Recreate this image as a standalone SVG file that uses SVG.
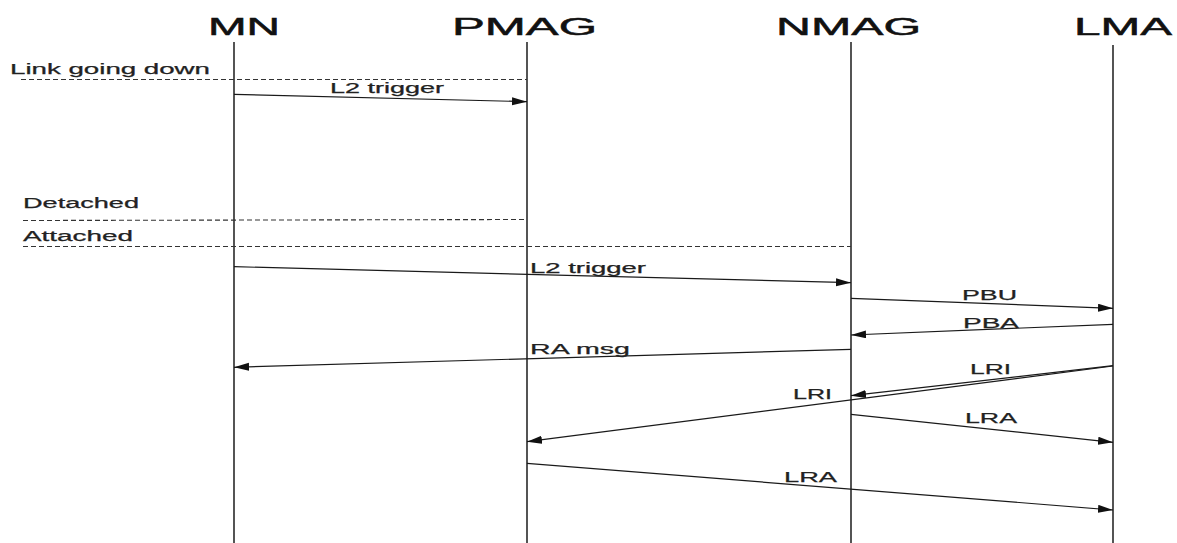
<svg xmlns="http://www.w3.org/2000/svg" width="1177" height="543" viewBox="0 0 1177 543">
<style>
.hdr{font-family:"Liberation Sans",Arial,sans-serif;font-size:24.5px;fill:#111;stroke:#111;stroke-width:0.5}
.lbl{font-family:"Liberation Sans",Arial,sans-serif;font-size:14px;fill:#222;stroke:#222;stroke-width:0.25}
.life{stroke:#2a2a2a;stroke-width:1.6;fill:none}
.msg{stroke:#1a1a1a;stroke-width:1.2;fill:none;marker-end:url(#ah)}
.dash{stroke:#333;stroke-width:1.1;stroke-dasharray:5 3;fill:none}
</style>
<defs>
<marker id="ah" markerUnits="userSpaceOnUse" markerWidth="16" markerHeight="9" refX="15" refY="4" orient="auto">
<path d="M0,0 L15,4 L0,8 z" fill="#111"/>
</marker>
</defs>
<rect width="1177" height="543" fill="#fff"/>
<g id="node-MN">
<text class="hdr" x="208" y="35" textLength="72" lengthAdjust="spacingAndGlyphs">MN</text>
<line class="life" x1="234" y1="42" x2="234" y2="543"/>
</g>
<g id="node-PMAG">
<text class="hdr" x="452" y="35" textLength="145" lengthAdjust="spacingAndGlyphs">PMAG</text>
<line class="life" x1="527" y1="42" x2="527" y2="543"/>
</g>
<g id="node-NMAG">
<text class="hdr" x="776" y="34.5" textLength="145" lengthAdjust="spacingAndGlyphs">NMAG</text>
<line class="life" x1="851" y1="42" x2="851" y2="543"/>
</g>
<g id="node-LMA">
<text class="hdr" x="1074" y="34.5" textLength="98" lengthAdjust="spacingAndGlyphs">LMA</text>
<line class="life" x1="1113" y1="45" x2="1113" y2="543"/>
</g>
<g id="states">
<text class="lbl" x="10" y="73.5" textLength="200" lengthAdjust="spacingAndGlyphs">Link going down</text>
<line class="dash" x1="21" y1="79.5" x2="527" y2="79.5"/>
<text class="lbl" x="23" y="208" textLength="116" lengthAdjust="spacingAndGlyphs">Detached</text>
<line class="dash" x1="23" y1="220.5" x2="527" y2="219.5"/>
<text class="lbl" x="23" y="240.5" textLength="110" lengthAdjust="spacingAndGlyphs">Attached</text>
<line class="dash" x1="23" y1="246.5" x2="851" y2="246.5"/>
</g>
<g id="connectors">
<line class="msg" x1="234" y1="94.3" x2="527" y2="101.7"/>
<text class="lbl" x="330" y="93" textLength="114" lengthAdjust="spacingAndGlyphs">L2 trigger</text>
<line class="msg" x1="234" y1="266.7" x2="851" y2="282.7"/>
<text class="lbl" x="530" y="272.7" textLength="116" lengthAdjust="spacingAndGlyphs">L2 trigger</text>
<line class="msg" x1="851" y1="298.3" x2="1113" y2="308.3"/>
<text class="lbl" x="962" y="300" textLength="55" lengthAdjust="spacingAndGlyphs">PBU</text>
<line class="msg" x1="1113" y1="324.3" x2="851" y2="335"/>
<text class="lbl" x="963" y="327.5" textLength="56" lengthAdjust="spacingAndGlyphs">PBA</text>
<line class="msg" x1="851" y1="349.3" x2="234" y2="367.3"/>
<text class="lbl" x="530" y="354" textLength="100" lengthAdjust="spacingAndGlyphs">RA msg</text>
<line class="msg" x1="1113" y1="365.7" x2="851" y2="395.7"/>
<text class="lbl" x="970" y="374" textLength="41" lengthAdjust="spacingAndGlyphs">LRI</text>
<line class="msg" x1="1113" y1="366" x2="527" y2="441.7"/>
<text class="lbl" x="793" y="399" textLength="39" lengthAdjust="spacingAndGlyphs">LRI</text>
<line class="msg" x1="851" y1="414.3" x2="1113" y2="442.3"/>
<text class="lbl" x="965" y="422.7" textLength="52" lengthAdjust="spacingAndGlyphs">LRA</text>
<line class="msg" x1="527" y1="463.3" x2="1113" y2="510"/>
<text class="lbl" x="784" y="482.3" textLength="53" lengthAdjust="spacingAndGlyphs">LRA</text>
</g>
</svg>
